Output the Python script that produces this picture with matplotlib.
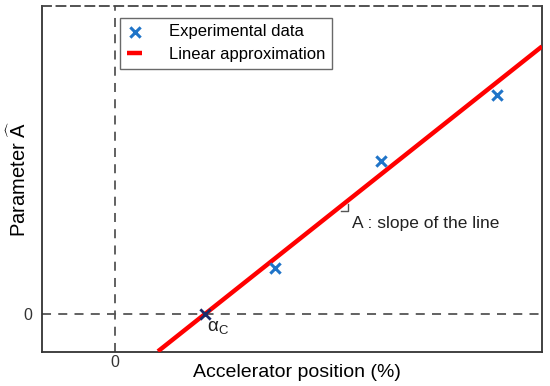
import matplotlib.pyplot as plt
import numpy as np

plt.rcParams['font.family'] = ['Liberation Sans', 'DejaVu Sans']
plt.rcParams['mathtext.fontset'] = 'custom'
plt.rcParams['mathtext.rm'] = 'Liberation Sans'
plt.rcParams['mathtext.it'] = 'Liberation Sans:italic'

# experimental points (accelerator position, parameter)
exp_x = [1.60, 2.66, 3.82]
exp_y = [0.46, 1.53, 2.19]

# critical point alpha_c and fitted line
alpha_c = 0.90
slope = 0.794
line_x = [0.43, 4.27]

fig = plt.figure(figsize=(5.5, 3.86), dpi=100)
ax = fig.add_axes([42/550, 1 - 352/386, 500/550, 346/386])
ax.set_xlim(-0.73, 4.27)
ax.set_ylim(-0.38, 3.08)

gray = '#555555'
ax.axvline(0, color=gray, ls=(0, (5, 4)), lw=1.3)
ax.axhline(0, color=gray, ls=(0, (5, 4)), lw=1.3)

lx = np.array(line_x)
ly = slope * (lx - alpha_c)
ax.plot(lx, ly, color='#ff0000', lw=3.2, solid_capstyle='butt', label='Linear approximation', zorder=3)
ax.scatter(exp_x, exp_y, marker='x', color='#1f74c8', s=55, linewidths=2.2, label='Experimental data', zorder=4)
ax.scatter([alpha_c], [0], marker='x', color='#1a2a6a', s=55, linewidths=2.0, zorder=4)

# right angle mark under the line
px, yb, sq = 2.26, 1.03, 0.07
ax.plot([px, px + sq, px + sq], [yb, yb, yb + sq], color=gray, lw=1.0, zorder=2)

ax.text(2.37, 0.98, 'A : slope of the line', fontsize=12.5, color='#222222', va='top', ha='left')
ax.text(alpha_c + 0.02, -0.05, r'$\mathrm{\alpha}_\mathrm{C}$', fontsize=13.5, color='#222222', va='top', ha='left')

ax.set_xticks([0])
ax.set_yticks([0])
ax.set_xticklabels(['0'], fontsize=11.5, color='#333333')
ax.set_yticklabels(['0'], fontsize=11.5, color='#333333')
ax.tick_params(length=0)
ax.tick_params(axis='x', pad=2)
ax.tick_params(axis='y', pad=7)

for s in ['left', 'right', 'bottom']:
    ax.spines[s].set_color('#333333')
    ax.spines[s].set_linewidth(1.3)
ax.spines['top'].set_linestyle((0, (5, 3)))
ax.spines['top'].set_color('#444444')
ax.spines['top'].set_linewidth(1.3)

ax.set_xlabel('Accelerator position (%)', fontsize=14, labelpad=-5)
ax.set_ylabel(r'Parameter $\widehat{\mathrm{A}}$', fontsize=14.5, labelpad=2)
ax.yaxis.set_label_coords(-0.024, 0.5)
ax.xaxis.set_label_coords(0.51, -0.035)

handles, labels = ax.get_legend_handles_labels()
leg = ax.legend(handles[::-1], labels[::-1], loc='upper left', bbox_to_anchor=(0.14, 0.99),
                fontsize=12, frameon=True, fancybox=False, edgecolor='#444444',
                handlelength=0.9, handletextpad=1.6, borderpad=0.4, labelspacing=0.45)
leg.get_frame().set_linewidth(1.0)

fig.savefig('out.png', dpi=100)
